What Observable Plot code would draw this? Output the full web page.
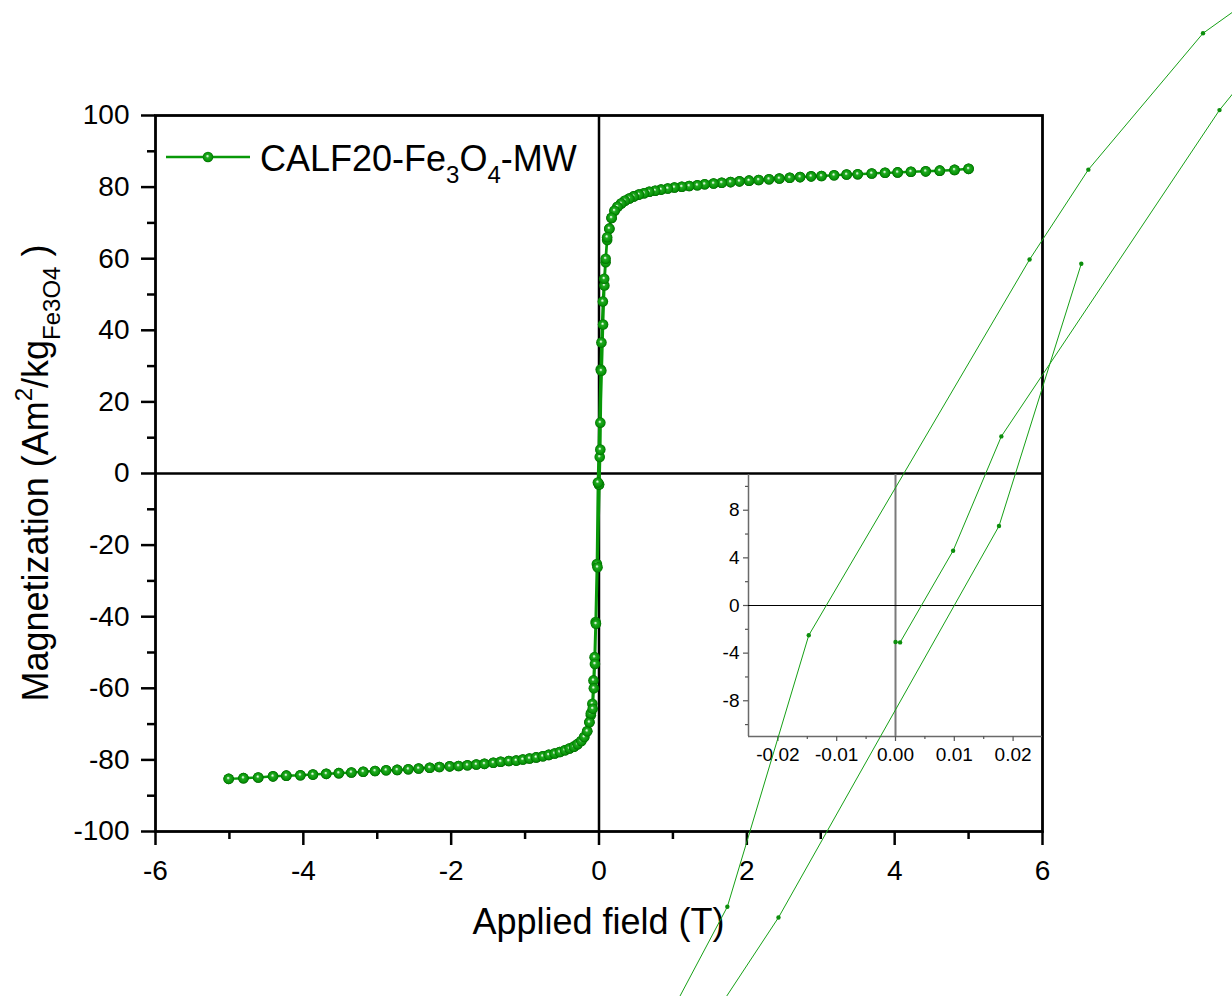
<!DOCTYPE html>
<html>
<head>
<meta charset="utf-8">
<script src="https://cdn.jsdelivr.net/npm/d3@7"></script>
<script src="https://cdn.jsdelivr.net/npm/@observablehq/plot@0.6"></script>
<style>
html, body { margin: 0; padding: 0; background: #fff; overflow: hidden; }
#wrap { position: relative; width: 1232px; height: 996px; }
#wrap svg { position: absolute; left: 0; top: 0; }
</style>
</head>
<body>
<div id="wrap"></div>
<script>
// ---------- axes / ticks ----------
const xDomain = [-6, 6];
const yDomain = [-100, 100];
const xTicks = [-6, -4, -2, 0, 2, 4, 6];
const xMinorTicks = [-5, -3, -1, 1, 3, 5];
const yTicks = [-100, -80, -60, -40, -20, 0, 20, 40, 60, 80, 100];
const yMinorTicks = [-90, -70, -50, -30, -10, 10, 30, 50, 70, 90];

const insetXDomain = [-0.025, 0.025];
const insetYDomain = [-11, 11];
const insetXTicks = [-0.02, -0.01, 0, 0.01, 0.02];
const insetXMinorTicks = [-0.015, -0.005, 0.005, 0.015];
const insetYTicks = [-8, -4, 0, 4, 8];
const insetYMinorTicks = [-10, -6, -2, 2, 6, 10];

// ---------- text ----------
const xTitle = "Applied field (T)";
const yTitleParts = [["Magnetization (Am", ""], ["2", "sup"], ["/kg", ""], ["Fe3O4", "sub"], [" )", ""]];
const seriesNameParts = [["CALF20-Fe", ""], ["3", "sub"], ["O", ""], ["4", "sub"], ["-MW", ""]];

// ---------- data (measurement order) ----------
// initial magnetisation curve, 0 -> 5 T
const initField = [0, 0.00078, 0.0098, 0.018, 0.0551, 0.073, 0.09, 0.11, 0.14, 0.17, 0.21, 0.25, 0.30, 0.35, 0.41,
  0.47, 0.54, 0.61, 0.68, 0.76, 0.84, 0.93, 1.02, 1.12, 1.22, 1.33, 1.43, 1.55, 1.66, 1.78, 1.90, 2.03, 2.16, 2.30,
  2.44, 2.58, 2.72, 2.87, 3.01, 3.18, 3.35, 3.50, 3.69, 3.87, 4.04, 4.22, 4.42, 4.61, 4.81, 5.00];
const initMag = [-3.06, -3.1, 4.6, 14.2, 41.6, 52.5, 59.0, 65.2, 68.4, 71.4, 73.4, 74.5, 75.4, 76.2, 76.8,
  77.4, 77.9, 78.3, 78.7, 79.0, 79.3, 79.6, 79.9, 80.1, 80.3, 80.5, 80.8, 81.0, 81.2, 81.4, 81.6, 81.8, 82.0, 82.2,
  82.4, 82.6, 82.8, 83.0, 83.1, 83.3, 83.5, 83.6, 83.8, 84.0, 84.1, 84.3, 84.4, 84.6, 84.8, 85.1];
// descending branch, 5 -> -5 T
const downField = [5.00, 4.81, 4.61, 4.42, 4.22, 4.04, 3.87, 3.69, 3.50, 3.35, 3.18, 3.01, 2.87, 2.72, 2.58, 2.44,
  2.30, 2.16, 2.03, 1.90, 1.78, 1.66, 1.55, 1.43, 1.33, 1.22, 1.12, 1.02, 0.93, 0.84, 0.76, 0.68, 0.61, 0.54, 0.47,
  0.41, 0.35, 0.30, 0.25, 0.21, 0.17, 0.14, 0.11, 0.09, 0.0703, 0.0523, 0.0328, 0.0228, -0.01475, -0.0286, -0.046,
  -0.06, -0.075, -0.09, -0.11, -0.13, -0.16, -0.20, -0.24, -0.29, -0.34, -0.40, -0.46, -0.53, -0.60, -0.68, -0.76,
  -0.85, -0.94, -1.03, -1.12, -1.22, -1.33, -1.43, -1.55, -1.66, -1.78, -1.90, -2.02, -2.16, -2.29, -2.44, -2.58,
  -2.73, -2.88, -3.03, -3.19, -3.35, -3.52, -3.69, -3.87, -4.04, -4.23, -4.41, -4.61, -4.81, -5.01];
const downMag = [85.1, 84.8, 84.6, 84.4, 84.3, 84.1, 84.0, 83.8, 83.6, 83.5, 83.3, 83.1, 83.0, 82.8, 82.6, 82.4,
  82.2, 82.0, 81.8, 81.6, 81.4, 81.2, 81.0, 80.8, 80.5, 80.3, 80.1, 79.9, 79.6, 79.3, 79.0, 78.7, 78.3, 77.9, 77.4,
  76.8, 76.2, 75.4, 74.5, 73.4, 71.4, 68.4, 66.0, 60.0, 54.4, 48.05, 36.6, 29.05, -2.5, -25.3, -41.5,
  -51.3, -57.8, -64.3, -67.5, -69.5, -72.0, -73.6, -74.7, -75.6, -76.3, -76.8, -77.3, -77.8, -78.2, -78.6, -79.0,
  -79.3, -79.6, -79.9, -80.2, -80.3, -80.5, -80.8, -81.1, -81.3, -81.5, -81.7, -81.8, -82.0, -82.2, -82.4, -82.6,
  -82.8, -82.9, -83.1, -83.3, -83.5, -83.7, -83.9, -84.1, -84.3, -84.4, -84.6, -84.9, -85.1, -85.3];
// ascending branch, -5 T -> end of record
const upField = [-5.01, -4.81, -4.61, -4.41, -4.23, -4.04, -3.87, -3.69, -3.52, -3.35, -3.19, -3.03, -2.88, -2.73,
  -2.58, -2.44, -2.29, -2.16, -2.02, -1.90, -1.78, -1.66, -1.55, -1.43, -1.33, -1.22, -1.12, -1.03, -0.94, -0.85,
  -0.76, -0.68, -0.60, -0.53, -0.46, -0.40, -0.34, -0.29, -0.24, -0.20, -0.16, -0.13, -0.11, -0.085, -0.07, -0.055,
  -0.041, -0.0199, 0.0176, 0.0316];
const upMag = [-85.3, -85.1, -84.9, -84.6, -84.4, -84.3, -84.1, -83.9, -83.7, -83.5, -83.3, -83.1, -82.9, -82.8,
  -82.6, -82.4, -82.2, -82.0, -81.8, -81.7, -81.5, -81.3, -81.1, -80.8, -80.5, -80.3, -80.2, -79.9, -79.6, -79.3,
  -79.0, -78.6, -78.2, -77.8, -77.3, -76.8, -76.3, -75.6, -74.7, -73.6, -72.0, -69.5, -67.0, -65.7, -60.0, -53.2,
  -42.0, -26.2, 6.67, 28.7];

const loop = [];
[[initField, initMag], [downField, downMag], [upField, upMag]].forEach(([f, m]) =>
  f.forEach((h, i) => loop.push({field: h, mag: m[i]})));

const font = "'Liberation Sans', Arial, Helvetica, sans-serif";
const green = "#089808";

// ---------- main chart ----------
const main = Plot.plot({
  width: 1232, height: 996,
  marginLeft: 155, marginRight: 190, marginTop: 115, marginBottom: 165,
  style: {fontFamily: font, background: "white", overflow: "visible", color: "black"},
  x: {domain: xDomain},
  y: {domain: yDomain},
  marks: [
    Plot.ruleX([0], {stroke: "black", strokeWidth: 2.5}),
    Plot.ruleY([0], {stroke: "black", strokeWidth: 2.5}),
    Plot.axisX({ticks: xTicks, tickSize: 14, tickPadding: 15, fontSize: 28, strokeWidth: 2.5,
      tickFormat: d => String(d), label: null}),
    Plot.axisX({ticks: xMinorTicks, tickSize: 8, strokeWidth: 2.5, tickFormat: () => "", label: null}),
    Plot.axisY({ticks: yTicks, tickSize: 14, tickPadding: 12, fontSize: 28, strokeWidth: 2.5,
      tickFormat: d => String(d), label: null}),
    Plot.axisY({ticks: yMinorTicks, tickSize: 8, strokeWidth: 2.5, tickFormat: () => "", label: null}),
    Plot.line(loop, {x: "field", y: "mag", stroke: green, strokeWidth: 2.5}),
    Plot.dot(loop, {x: "field", y: "mag", r: 5.3, fill: green}),
    Plot.frame({stroke: "black", strokeWidth: 2.8})
  ]
});
document.getElementById("wrap").appendChild(main);

// ball-shaped markers
const ms = d3.select(main);
const defs = ms.insert("defs", ":first-child");
const grad = defs.append("radialGradient").attr("id", "ball")
  .attr("cx", "50%").attr("cy", "50%").attr("r", "50%").attr("fx", "44%").attr("fy", "40%");
[[0, "#f4fff4"], [0.14, "#b5e9b5"], [0.32, "#22aa22"], [0.8, "#069306"], [1, "#006a00"]].forEach(([o, c]) =>
  grad.append("stop").attr("offset", o).attr("stop-color", c));
ms.selectAll('g[aria-label="dot"]').attr("fill", "url(#ball)");
ms.selectAll('g[aria-label="dot"] circle').attr("fill", "url(#ball)");

// titles
const xs = main.scale("x"), ys = main.scale("y");
ms.append("text").attr("x", xs.apply(0)).attr("y", 934).attr("text-anchor", "middle")
  .attr("font-family", font).attr("font-size", 36).attr("fill", "black").text(xTitle);

function richText(sel, parts, size) {
  let shift = 0;
  parts.forEach(([s, kind]) => {
    const target = kind === "sup" ? -16 : kind === "sub" ? 12 : 0;
    const t = sel.append("tspan").attr("dy", target - shift).text(s);
    if (kind) t.attr("font-size", Math.round(size * 0.66));
    shift = target;
  });
}
const yt = ms.append("text").attr("transform", `translate(48,${ys.apply(0)}) rotate(-90)`)
  .attr("text-anchor", "middle").attr("font-family", font).attr("font-size", 36).attr("fill", "black");
richText(yt, yTitleParts, 36);

// legend
const lg = ms.append("g");
lg.append("line").attr("x1", 166).attr("x2", 250).attr("y1", 157).attr("y2", 157)
  .attr("stroke", green).attr("stroke-width", 2.5);
lg.append("circle").attr("cx", 208).attr("cy", 157).attr("r", 5.3).attr("fill", "url(#ball)");
const lt = lg.append("text").attr("x", 260).attr("y", 171).attr("font-family", font)
  .attr("text-anchor", "start").attr("font-size", 36).attr("fill", "black");
richText(lt, seriesNameParts, 36);

// ---------- inset ----------
const inset = Plot.plot({
  width: 1232, height: 996,
  marginLeft: 748, marginRight: 190, marginTop: 474, marginBottom: 260,
  style: {fontFamily: font, background: "transparent", overflow: "visible", color: "black"},
  x: {domain: insetXDomain},
  y: {domain: insetYDomain},
  marks: [
    Plot.ruleX([insetXDomain[0]], {stroke: "#6a6a6a", strokeWidth: 1.5}),
    Plot.ruleY([insetYDomain[0]], {stroke: "#6a6a6a", strokeWidth: 1.5}),
    Plot.ruleX([0], {stroke: "#7a7a7a", strokeWidth: 2}),
    Plot.ruleY([0], {stroke: "black", strokeWidth: 1}),
    Plot.axisX({ticks: insetXTicks, tickSize: 5, tickPadding: 6, fontSize: 19, stroke: "#555", strokeWidth: 1.2,
      tickFormat: d => d.toFixed(2), label: null}),
    Plot.axisX({ticks: insetXMinorTicks, tickSize: 3, stroke: "#555", strokeWidth: 1.2, tickFormat: () => "", label: null}),
    Plot.axisY({ticks: insetYTicks, tickSize: 5, tickPadding: 4, fontSize: 19, stroke: "#555", strokeWidth: 1.2,
      tickFormat: d => String(d), label: null}),
    Plot.axisY({ticks: insetYMinorTicks, tickSize: 3, stroke: "#555", strokeWidth: 1.2, tickFormat: () => "", label: null}),
    Plot.line(loop, {x: "field", y: "mag", stroke: "#16a016", strokeWidth: 1}),
    Plot.dot(loop, {x: "field", y: "mag", r: 2.2, fill: "#0c8e0c"})
  ]
});
document.getElementById("wrap").appendChild(inset);
</script>
</body>
</html>
